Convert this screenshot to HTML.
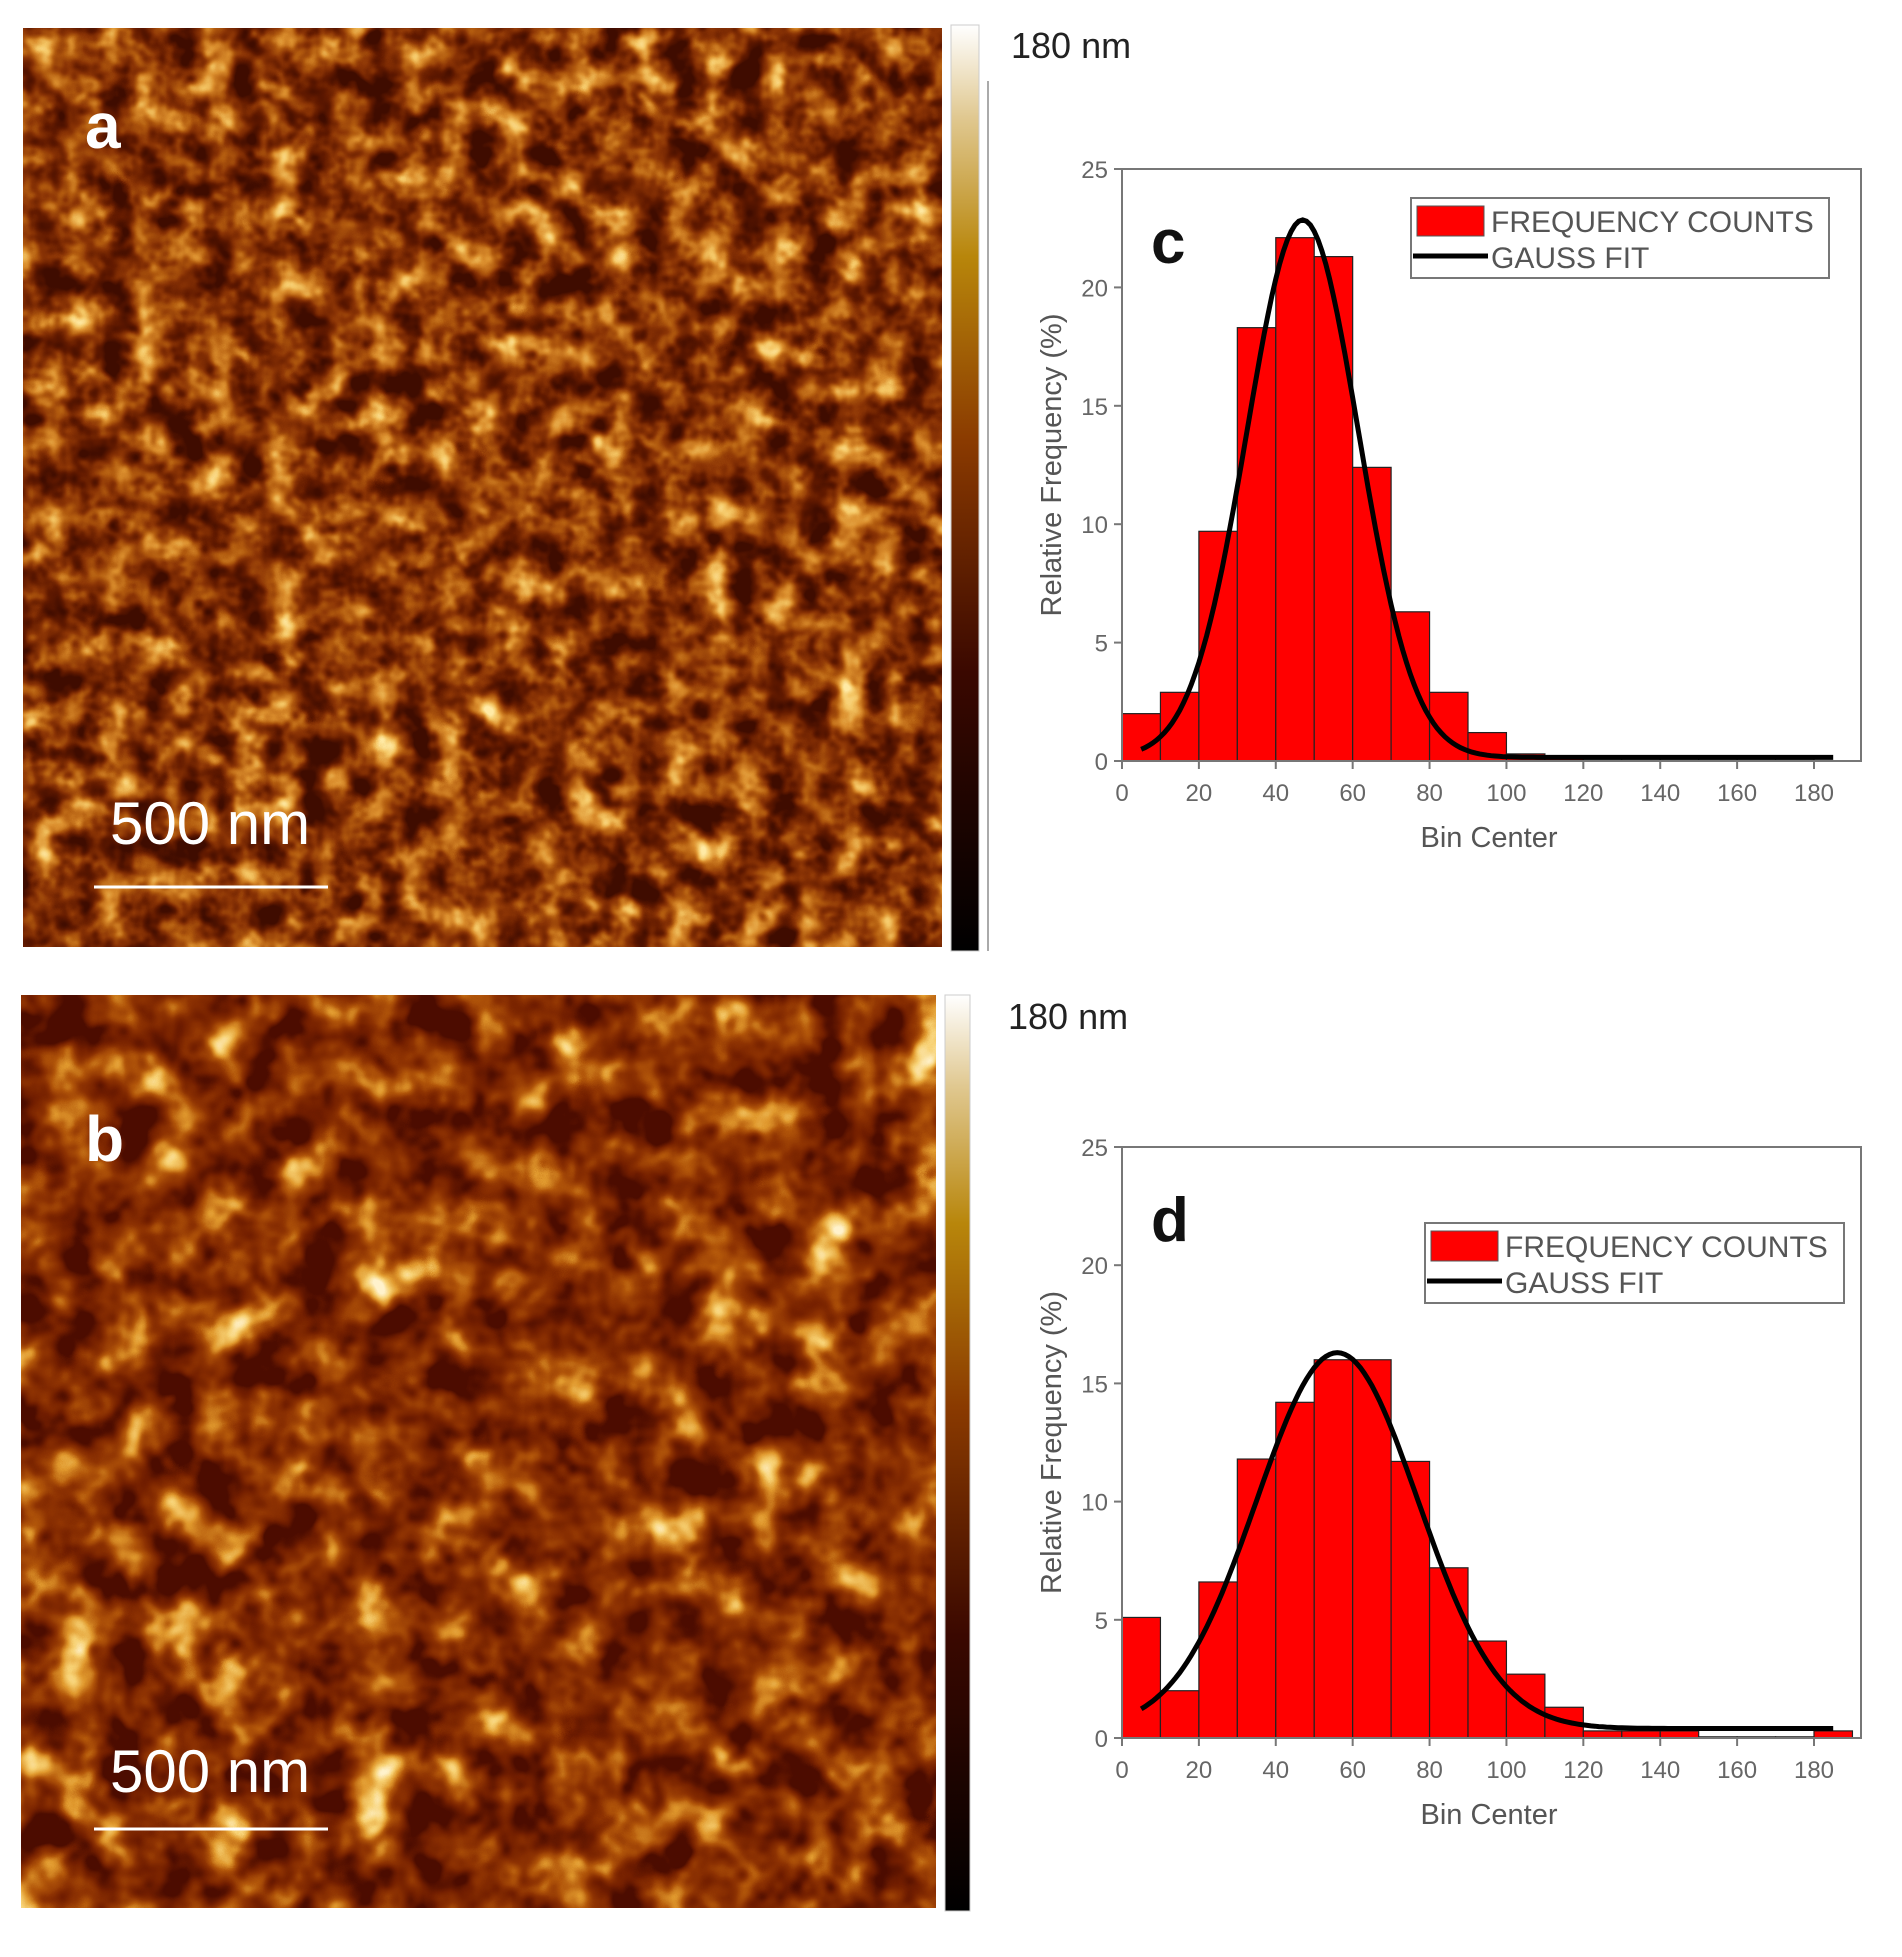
<!DOCTYPE html>
<html><head><meta charset="utf-8"><style>
html,body{margin:0;padding:0;background:#fff;}
body{width:1902px;height:1957px;position:relative;overflow:hidden;font-family:"Liberation Sans",sans-serif;}
</style></head><body>
<svg id="s" width="1902" height="1957" xmlns="http://www.w3.org/2000/svg" style="position:absolute;left:0;top:0">
<defs>
<linearGradient id="cb" x1="0" y1="1" x2="0" y2="0">
<stop offset="0" stop-color="#000"/><stop offset="0.3" stop-color="#3a0800"/><stop offset="0.55" stop-color="#8a3a00"/><stop offset="0.75" stop-color="#b8860b"/><stop offset="0.9" stop-color="#e0c890"/><stop offset="1" stop-color="#fff"/>
</linearGradient>
<filter id="afm1" x="0" y="0" width="100%" height="100%" color-interpolation-filters="sRGB">
<feTurbulence type="fractalNoise" baseFrequency="0.03" numOctaves="3" seed="3"/>
<feColorMatrix type="matrix" values="0.33 0.33 0.33 0 0 0.33 0.33 0.33 0 0 0.33 0.33 0.33 0 0 0 0 0 0 1"/>
<feComponentTransfer>
<feFuncR type="linear" slope="2.6" intercept="-0.95"/>
<feFuncG type="linear" slope="2.6" intercept="-0.95"/>
<feFuncB type="linear" slope="2.6" intercept="-0.95"/>
</feComponentTransfer>
<feComponentTransfer>
<feFuncR type="table" tableValues="0.25 0.38 0.54 0.7 0.86 0.96 1"/>
<feFuncG type="table" tableValues="0.05 0.1 0.2 0.36 0.56 0.78 0.92"/>
<feFuncB type="table" tableValues="0 0 0.02 0.06 0.18 0.4 0.65"/>
</feComponentTransfer>
</filter>
<filter id="afm2" x="0" y="0" width="100%" height="100%" color-interpolation-filters="sRGB">
<feTurbulence type="fractalNoise" baseFrequency="0.02" numOctaves="3" seed="11"/>
<feColorMatrix type="matrix" values="0.33 0.33 0.33 0 0 0.33 0.33 0.33 0 0 0.33 0.33 0.33 0 0 0 0 0 0 1"/>
<feComponentTransfer>
<feFuncR type="linear" slope="2.8" intercept="-1.1"/>
<feFuncG type="linear" slope="2.8" intercept="-1.1"/>
<feFuncB type="linear" slope="2.8" intercept="-1.1"/>
</feComponentTransfer>
<feComponentTransfer>
<feFuncR type="table" tableValues="0.3 0.45 0.56 0.7 0.88 0.97 1"/>
<feFuncG type="table" tableValues="0.05 0.12 0.2 0.34 0.6 0.82 0.95"/>
<feFuncB type="table" tableValues="0 0 0.01 0.04 0.18 0.45 0.8"/>
</feComponentTransfer>
</filter>
</defs>
<rect x="23" y="28" width="919" height="919" filter="url(#afm1)"/>
<rect x="21" y="995" width="915" height="913" filter="url(#afm2)"/>
<text x="85" y="148" font-size="64" font-weight="bold" fill="#fff">a</text>
<text x="110" y="844" font-size="60" fill="#fff">500 nm</text>
<line x1="94" y1="887" x2="328" y2="887" stroke="#fff" stroke-width="3"/>
<text x="85" y="1161" font-size="64" font-weight="bold" fill="#fff">b</text>
<text x="110" y="1792" font-size="60" fill="#fff">500 nm</text>
<line x1="94" y1="1829" x2="328" y2="1829" stroke="#fff" stroke-width="3"/>
<rect x="951" y="25" width="28" height="926" fill="url(#cb)" stroke="#ccc" stroke-width="1"/>
<line x1="988" y1="81" x2="988" y2="951" stroke="#aaa" stroke-width="2"/>
<rect x="945" y="995" width="25" height="916" fill="url(#cb)" stroke="#ccc" stroke-width="1"/>
<text x="1011" y="58" font-size="36" fill="#222">180 nm</text>
<text x="1008" y="1029" font-size="36" fill="#222">180 nm</text>
<g id="plots"></g>
</svg>
<script>
const NS="http://www.w3.org/2000/svg";
const g=document.getElementById('plots');
function el(t,a,txt){const e=document.createElementNS(NS,t);for(const k in a)e.setAttribute(k,a[k]);if(txt!==undefined)e.textContent=txt;g.appendChild(e);return e;}
function plot(top,bottom,bars,mu,sig,amp,base,label,legY,legX,legW){
 const L=1122,R=1861,px=(1814-1122)/180,py=(bottom-top)/25;
 const X=v=>L+v*px,Y=v=>bottom-v*py;
 bars.forEach((h,i)=>{if(h<=0)return;const c=h<0.1?'#ccc':'#f00';el('rect',{x:X(i*10),y:Y(h),width:10*px,height:h*py,fill:c,stroke:'#222','stroke-width':1.2});});
 let d='';for(let v=5;v<=185;v+=1){const y=base+amp*Math.exp(-(v-mu)*(v-mu)/(2*sig*sig));d+=(v==5?'M':'L')+X(v).toFixed(1)+','+Y(y).toFixed(1);}
 el('path',{d:d,fill:'none',stroke:'#000','stroke-width':5});
 el('rect',{x:L,y:top,width:R-L,height:bottom-top,fill:'none',stroke:'#777','stroke-width':2});
 for(let v=0;v<=25;v+=5){el('line',{x1:L-8,y1:Y(v),x2:L,y2:Y(v),stroke:'#777','stroke-width':2});el('text',{x:L-14,y:Y(v)+9,'font-size':24,fill:'#666','text-anchor':'end'},v);}
 for(let v=0;v<=180;v+=20){el('line',{x1:X(v),y1:bottom,x2:X(v),y2:bottom+8,stroke:'#777','stroke-width':2});el('text',{x:X(v),y:bottom+40,'font-size':24,fill:'#666','text-anchor':'middle'},v);}
 el('text',{x:1489,y:bottom+86,'font-size':29,fill:'#555','text-anchor':'middle'},'Bin Center');
 const cy=(top+bottom)/2;el('text',{x:1061,y:cy,'font-size':29,fill:'#555','text-anchor':'middle',transform:`rotate(-90 1061 ${cy})`},'Relative Frequency (%)');
 el('text',{x:1151,y:top+94,'font-size':62,'font-weight':'bold',fill:'#111'},label);
 el('rect',{x:legX,y:legY,width:legW,height:80,fill:'#fff',stroke:'#777','stroke-width':2});
 el('rect',{x:legX+6,y:legY+8,width:67,height:30,fill:'#f00',stroke:'#555'});
 el('line',{x1:legX+2,y1:legY+58,x2:legX+77,y2:legY+58,stroke:'#000','stroke-width':5});
 el('text',{x:legX+80,y:legY+34,'font-size':30,fill:'#555'},'FREQUENCY COUNTS');
 el('text',{x:legX+80,y:legY+70,'font-size':30,fill:'#555'},'GAUSS FIT');
}
plot(169,761,[2.0,2.9,9.7,18.3,22.1,21.3,12.4,6.3,2.9,1.2,0.3,0.2,0.08,0.08,0.08,0.08,0.08,0.08],47,14.5,22.7,0.15,'c',198,1411,418);
plot(1147,1738,[5.1,2.0,6.6,11.8,14.2,16.0,16.0,11.7,7.2,4.1,2.7,1.3,0.3,0.3,0.3,0.05,0.05,0.05,0.3],56,21,15.9,0.4,'d',1223,1425,419);
</script>
</body></html>
